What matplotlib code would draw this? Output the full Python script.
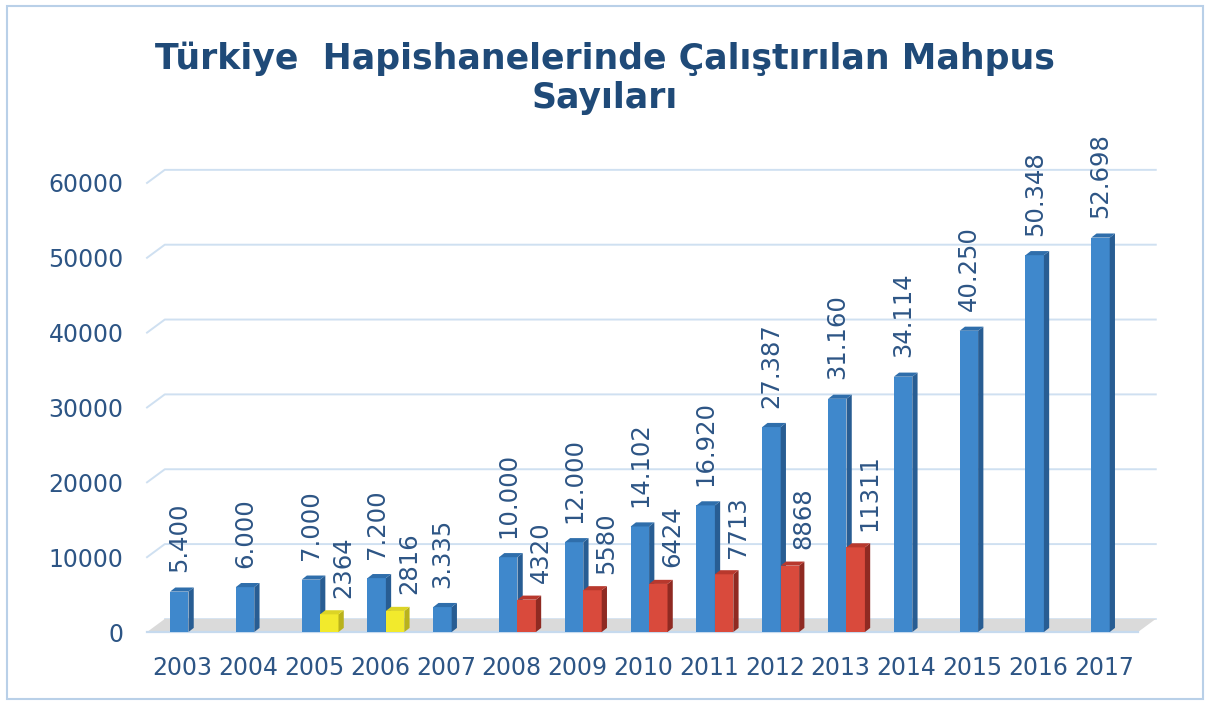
import numpy as np
import matplotlib
matplotlib.use("Agg")
import matplotlib.pyplot as plt
from matplotlib.patches import Polygon, Rectangle

# --- data ---
years = ["2003", "2004", "2005", "2006", "2007", "2008", "2009", "2010",
         "2011", "2012", "2013", "2014", "2015", "2016", "2017"]
total = [5400, 6000, 7000, 7200, 3335, 10000, 12000, 14102, 16920,
         27387, 31160, 34114, 40250, 50348, 52698]
yellow_years = ["2005", "2006"]
yellow_vals = [2364, 2816]
red_years = ["2008", "2009", "2010", "2011", "2012", "2013"]
red_vals = [4320, 5580, 6424, 7713, 8868, 11311]
yticks = [0, 10000, 20000, 30000, 40000, 50000, 60000]

TITLE = "Türkiye  Hapishanelerinde Çalıştırılan Mahpus\nSayıları"
TEXT_COL = "#2d5585"

W = 0.28        # bar front width
BDX = 0.08      # bar depth (x, data units)
BDY = 550       # bar depth (y, data units)
WDX = 0.27      # wall depth
WDY = 1750


def bar3d(ax, xs, vals, front, side, top, z):
    ax.bar(xs, vals, width=W, color=front, edgecolor="none", zorder=z)
    for x, v in zip(xs, vals):
        x0, x1 = x - W / 2, x + W / 2
        ax.add_patch(Polygon([(x1, 0), (x1 + BDX, BDY), (x1 + BDX, v + BDY), (x1, v)],
                             closed=True, color=side, lw=0, zorder=z))
        ax.add_patch(Polygon([(x0, v), (x1, v), (x1 + BDX, v + BDY), (x0 + BDX, v + BDY)],
                             closed=True, color=top, lw=0, zorder=z))


def main():
    fig = plt.figure(figsize=(12.1, 7.05), dpi=100)
    fig.patch.set_facecolor("white")
    fig.patches.append(Rectangle((0.006, 0.008), 0.988, 0.984, transform=fig.transFigure,
                                 fill=False, edgecolor="#b9d0e8", lw=1.5))
    ax = fig.add_axes([0.1215, 0.1035, 0.819, 0.637])
    xlim = (-0.49, 14.57)
    ax.set_xlim(*xlim)
    ax.set_ylim(0, 60000)
    for s in ax.spines.values():
        s.set_visible(False)

    # back wall grid lines with perspective slant
    for t in yticks[1:]:
        ax.plot([xlim[0], xlim[0] + WDX, xlim[1] + WDX], [t, t + WDY, t + WDY],
                color="#cfe0f1", lw=1.4, zorder=0, clip_on=False)
    # floor
    ax.add_patch(Polygon([(xlim[0], 0), (xlim[1], 0), (xlim[1] + WDX, WDY),
                          (xlim[0] + WDX, WDY)], closed=True, color="#dadada",
                         lw=0, zorder=0.5, clip_on=False))
    ax.plot([xlim[0], xlim[1]], [0, 0], color="#c6daee", lw=1.6, zorder=0.6, clip_on=False)
    ax.plot([xlim[0] + WDX, xlim[1] + WDX], [WDY, WDY], color="#cfe0f1", lw=1.2,
            zorder=0.4, clip_on=False)

    x = np.arange(len(years))
    bar3d(ax, x, total, "#3f88cc", "#285d93", "#2f6eab", 2)
    xy = np.array([years.index(y) for y in yellow_years]) + W
    bar3d(ax, xy, yellow_vals, "#f2ea2c", "#b9b21c", "#dcd425", 3)
    xr = np.array([years.index(y) for y in red_years]) + W
    bar3d(ax, xr, red_vals, "#d94a3c", "#8f2a22", "#b8382d", 3)

    for xi, v in zip(x, total):
        ax.annotate(f"{v:,}".replace(",", "."), (xi, v), xytext=(0, 14),
                    textcoords="offset points", rotation=90, ha="center", va="bottom",
                    fontsize=17.5, color=TEXT_COL, annotation_clip=False)
    for xi, v in zip(np.concatenate([xy, xr]), yellow_vals + red_vals):
        ax.annotate(str(v), (xi, v), xytext=(10, 12),
                    textcoords="offset points", rotation=90, ha="center", va="bottom",
                    fontsize=17.5, color=TEXT_COL, annotation_clip=False)

    ax.set_yticks(yticks)
    ax.set_yticklabels([str(t) for t in yticks], fontsize=17, color=TEXT_COL)
    ax.set_xticks(x + 0.05)
    ax.set_xticklabels(years, fontsize=17, color=TEXT_COL)
    ax.tick_params(axis="y", length=0, pad=17)
    ax.tick_params(axis="x", length=0, pad=17)

    fig.text(0.5, 0.889, TITLE, ha="center", va="center", fontsize=25,
             fontweight="bold", color="#1f4a78", linespacing=1.2)

    fig.savefig("out.png", dpi=100)


if __name__ == "__main__":
    main()
